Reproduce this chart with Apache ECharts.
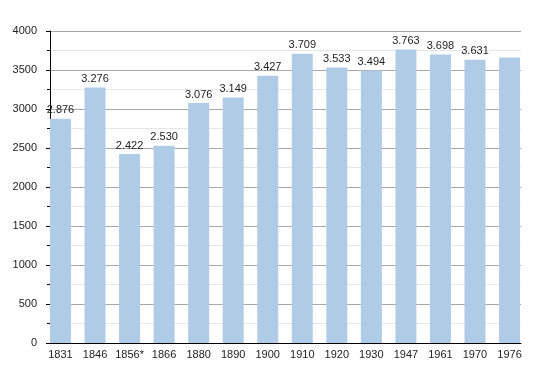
<!DOCTYPE html>
<html><head><meta charset="utf-8">
<script src="https://cdn.jsdelivr.net/npm/echarts@6/dist/echarts.min.js"></script>
<style>html,body{margin:0;padding:0;background:#fff}#c{width:550px;height:373px}</style>
</head><body><div id="c"></div>
<script>
const categories = ['1831','1846','1856*','1866','1880','1890','1900','1910','1920','1930','1947','1961','1970','1976'];
const values = [2876,3276,2422,2530,3076,3149,3427,3709,3533,3494,3763,3698,3631,3660];
const valueLabels = ['2.876','3.276','2.422','2.530','3.076','3.149','3.427','3.709','3.533','3.494','3.763','3.698','3.631',''];
const yTicks = [0,500,1000,1500,2000,2500,3000,3500,4000];

const chart = echarts.init(document.getElementById('c'), null, {renderer:'canvas'});
const font = 'Liberation Sans, Arial, sans-serif';
const yMin = yTicks[0], yMax = yTicks[yTicks.length-1];
chart.setOption({
  animation:false,
  grid:[
    {left:50,right:29,top:31,bottom:30,containLabel:false},
    {left:43.2,right:23.2,top:31,bottom:30,containLabel:false}
  ],
  xAxis:[
    {type:'value',gridIndex:0,min:0,max:1,
      axisLine:{show:true,onZero:false,lineStyle:{color:'#000',width:1}},
      axisTick:{show:false},axisLabel:{show:false},splitLine:{show:false}},
    {type:'category',gridIndex:1,data:categories,
      axisLine:{show:false},
      axisTick:{show:false},
      axisLabel:{color:'#222',fontFamily:font,fontSize:11,margin:6,interval:0},
      splitLine:{show:false}}
  ],
  yAxis:[
    {type:'value',gridIndex:0,min:yMin,max:yMax,interval:500,
      axisLine:{show:true,lineStyle:{color:'#000',width:1}},
      axisTick:{show:true,length:4,lineStyle:{color:'#000'}},
      minorTick:{show:true,splitNumber:2,length:3,lineStyle:{color:'#000'}},
      axisLabel:{color:'#222',fontFamily:font,fontSize:11,margin:13,formatter:v=>String(v)},
      splitLine:{show:true,lineStyle:{color:'#a8a8a8',width:1}},
      minorSplitLine:{show:true,lineStyle:{color:'#e6e6e6',width:1}}},
    {type:'value',gridIndex:1,min:yMin,max:yMax,show:false,splitLine:{show:false}}
  ],
  series:[{type:'bar',xAxisIndex:1,yAxisIndex:1,data:values,barWidth:21,
    itemStyle:{color:'#b0cbe5'},
    label:{show:true,position:'top',distance:3,color:'#222',fontFamily:font,fontSize:11,
      formatter:p=>valueLabels[p.dataIndex]}}]
});
</script></body></html>
